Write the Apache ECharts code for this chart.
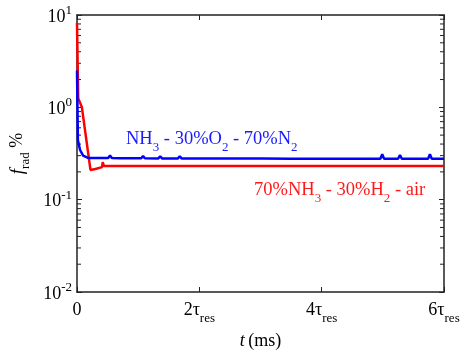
<!DOCTYPE html>
<html>
<head>
<meta charset="utf-8">
<script src="https://cdn.jsdelivr.net/npm/echarts@6/dist/echarts.min.js"></script>
<style>
  html, body { margin: 0; padding: 0; background: #fff; }
  #chart { width: 465px; height: 353px; }
</style>
</head>
<body>
<div id="chart"></div>
<script>
// time in units of tau_res, f_rad in %
const blueTime = [0, 0.015, 0.05, 0.1, 0.18, 0.51, 0.54, 0.57, 0.71, 0.74, 0.77, 1.05, 1.08, 1.11,
  1.33, 1.36, 1.39, 1.49, 1.52, 1.55, 1.65, 1.68, 1.71, 1.9, 1.93, 1.96, 2.18, 2.21, 2.24,
  2.63, 2.66, 2.69, 2.96, 2.99, 3.02, 3.5, 3.53, 3.56, 4.96, 4.99, 5.02, 5.25, 5.28, 5.31,
  5.74, 5.77, 5.8, 6];
const blueFrad = [2.5, 0.44, 0.345, 0.3, 0.283, 0.282, 0.3, 0.282, 0.281, 0.295, 0.281, 0.281, 0.296, 0.281,
  0.28, 0.295, 0.28, 0.28, 0.292, 0.28, 0.28, 0.295, 0.28, 0.28, 0.294, 0.28, 0.279, 0.29, 0.279,
  0.279, 0.29, 0.279, 0.279, 0.29, 0.279, 0.278, 0.29, 0.278, 0.277, 0.31, 0.277, 0.277, 0.305, 0.277,
  0.277, 0.31, 0.277, 0.277];

const redTime = [0, 0.02, 0.05, 0.08, 0.22, 0.3, 0.41, 0.42, 0.44, 1.7, 1.73, 1.76, 2.75, 2.78, 2.81,
  4.32, 4.35, 4.38, 4.81, 4.84, 4.87, 6];
const redFrad = [8.2, 1.25, 1.12, 1.0, 0.21, 0.215, 0.225, 0.255, 0.232, 0.232, 0.243, 0.232, 0.232, 0.241, 0.232,
  0.231, 0.24, 0.231, 0.231, 0.24, 0.231, 0.231];

const yDecades = [0.01, 0.1, 1, 10];
const minorMult = [2, 3, 4, 5, 6, 7, 8, 9];

const minorTicks = [];
yDecades.slice(0, 3).forEach(d => minorMult.forEach(m => minorTicks.push([0, d * m])));

const FONT = 'Liberation Serif';
const FS = 18;
const SUB = 13;

const chart = echarts.init(document.getElementById('chart'), null, { renderer: 'canvas' });

const zip = (t, f) => t.map((v, i) => [v, f[i]]);

const frameAxis = {
  axisLine: { onZero: false, lineStyle: { color: '#222', width: 1.5 } },
  axisTick: { inside: true, length: 5, lineStyle: { color: '#222' } },
  splitLine: { show: false },
};

chart.setOption({
  backgroundColor: '#fff',
  animation: false,
  grid: { left: 77, top: 15, right: 21, bottom: 61, containLabel: false, outerBoundsMode: 'none' },
  xAxis: [
    {
      type: 'value',
      min: 0,
      max: 6,
      interval: 2,
      position: 'bottom',
      name: '{i|t} {n|(ms)}',
      nameLocation: 'middle',
      nameGap: 40,
      nameTextStyle: {
        rich: {
          i: { fontFamily: FONT, fontSize: FS, fontStyle: 'italic', color: '#000' },
          n: { fontFamily: FONT, fontSize: FS, color: '#000' },
        },
      },
      ...frameAxis,
      axisLabel: {
        margin: 9,
        showMinLabel: true,
        showMaxLabel: true,
        formatter: (v) => (v === 0 ? '{a|0}' : '{a|' + v + 'τ}{s|res}'),
        rich: {
          a: { fontFamily: FONT, fontSize: FS, color: '#000', verticalAlign: 'top', lineHeight: 24 },
          s: { fontFamily: FONT, fontSize: SUB, color: '#000', verticalAlign: 'bottom', lineHeight: 24 },
        },
      },
    },
    {
      type: 'value',
      min: 0,
      max: 6,
      interval: 2,
      position: 'top',
      ...frameAxis,
      axisLabel: { show: false },
    },
  ],
  yAxis: [
    {
      type: 'log',
      logBase: 10,
      min: 0.01,
      max: 10,
      position: 'left',
      name: '{i|f}{s|rad}{n| %}',
      nameLocation: 'middle',
      nameGap: 45,
      nameTextStyle: {
        rich: {
          i: { fontFamily: FONT, fontSize: 19, fontStyle: 'italic', color: '#000', verticalAlign: 'top', lineHeight: 24 },
          s: { fontFamily: FONT, fontSize: SUB, color: '#000', verticalAlign: 'bottom', lineHeight: 24 },
          n: { fontFamily: FONT, fontSize: FS, color: '#000', verticalAlign: 'top', lineHeight: 24 },
        },
      },
      ...frameAxis,
      axisLabel: {
        margin: 5,
        formatter: (v) => '{b|10}{e|' + Math.round(Math.log10(v)) + '}',
        rich: {
          b: { fontFamily: FONT, fontSize: FS, color: '#000', verticalAlign: 'bottom', lineHeight: 22 },
          e: { fontFamily: FONT, fontSize: SUB, color: '#000', verticalAlign: 'top', lineHeight: 22 },
        },
      },
    },
    {
      type: 'log',
      logBase: 10,
      min: 0.01,
      max: 10,
      position: 'right',
      ...frameAxis,
      axisLabel: { show: false },
    },
  ],
  graphic: [
    {
      type: 'text',
      left: 126,
      top: 130,
      style: {
        text: '{a|NH}{s|3}{a| - 30%O}{s|2}{a| - 70%N}{s|2}',
        rich: {
          a: { fontFamily: FONT, fontSize: 18.5, fill: '#1a1aff', verticalAlign: 'top', lineHeight: 24 },
          s: { fontFamily: FONT, fontSize: SUB, fill: '#1a1aff', verticalAlign: 'bottom', lineHeight: 24 },
        },
      },
    },
    {
      type: 'text',
      left: 254,
      top: 181,
      style: {
        text: '{a|70%NH}{s|3}{a| - 30%H}{s|2}{a| - air}',
        rich: {
          a: { fontFamily: FONT, fontSize: 18.5, fill: '#ff1a1a', verticalAlign: 'top', lineHeight: 24 },
          s: { fontFamily: FONT, fontSize: SUB, fill: '#ff1a1a', verticalAlign: 'bottom', lineHeight: 24 },
        },
      },
    },
  ],
  series: [
    {
      name: 'NH3 - 30%O2 - 70%N2',
      type: 'line',
      data: zip(blueTime, blueFrad),
      symbol: 'none',
      lineStyle: { color: '#0000ff', width: 2.5 },
      z: 3,
    },
    {
      name: '70%NH3 - 30%H2 - air',
      type: 'line',
      data: zip(redTime, redFrad),
      symbol: 'none',
      lineStyle: { color: '#ff0000', width: 2.5 },
      z: 2,
    },
    {
      // minor log ticks on left and right edges
      type: 'custom',
      data: minorTicks,
      silent: true,
      z: 1,
      renderItem: (params, api) => {
        const l = api.coord([0, api.value(1)]);
        const r = api.coord([6, api.value(1)]);
        const st = { stroke: '#222', lineWidth: 1 };
        return {
          type: 'group',
          children: [
            { type: 'line', shape: { x1: l[0], y1: l[1], x2: l[0] + 4, y2: l[1] }, style: st },
            { type: 'line', shape: { x1: r[0] - 4, y1: r[1], x2: r[0], y2: r[1] }, style: st },
          ],
        };
      },
    },
  ],
});
</script>
</body>
</html>
